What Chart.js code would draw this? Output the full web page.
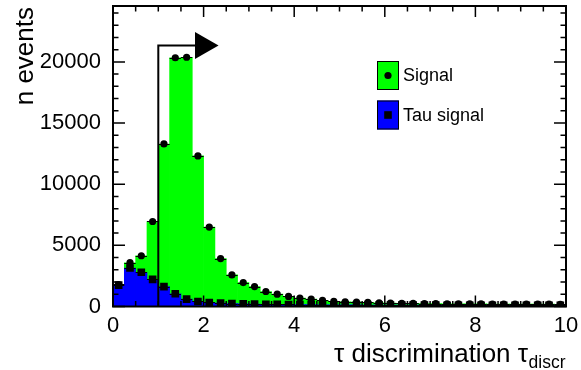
<!DOCTYPE html>
<html>
<head>
<meta charset="utf-8">
<script src="https://cdn.jsdelivr.net/npm/chart.js@4/dist/chart.umd.min.js"></script>
<style>
  html, body { margin: 0; padding: 0; background: #ffffff; }
  #wrap { position: relative; width: 581px; height: 370px; }
  canvas { display: block; }
</style>
</head>
<body>
<div id="wrap"><canvas id="c" width="581" height="370"></canvas></div>
<script>
// ---- data ----
const binCenters = [0.125, 0.375, 0.625, 0.875, 1.125, 1.375, 1.625, 1.875, 2.125, 2.375,
                    2.625, 2.875, 3.125, 3.375, 3.625, 3.875, 4.125, 4.375, 4.625, 4.875,
                    5.125, 5.375, 5.625, 5.875, 6.125, 6.375, 6.625, 6.875, 7.125, 7.375,
                    7.625, 7.875, 8.125, 8.375, 8.625, 8.875, 9.125, 9.375, 9.625, 9.875];
const signal = [1800, 3580, 4150, 6950, 13290, 20340, 20380, 12310, 6490, 3920,
                2580, 1960, 1630, 1225, 1010, 820, 690, 600, 500, 420,
                390, 360, 330, 305, 285, 265, 250, 240, 232, 225,
                220, 215, 210, 205, 200, 200, 195, 190, 188, 185];
const tauSignal = [1750, 3150, 2800, 2220, 1630, 1040, 605, 410, 330, 280,
                   240, 215, 200, 185, 175, 165, 155, 150, 145, 140,
                   135, 130, 125, 120, 118, 115, 112, 110, 108, 105,
                   103, 100, 100, 98, 96, 95, 94, 92, 90, 90];
const seriesNames = ['Signal', 'Tau signal'];
const xTickLabels = [0, 2, 4, 6, 8, 10];
const yTickLabels = [0, 5000, 10000, 15000, 20000];
const cutValue = 1.0;          // tau_discr cut shown by the arrow
const arrowLevel = 21350;      // height of the arrow (in events)
const arrowEnd = 1.81;         // where the arrow shaft ends
const arrowTip = 2.33;         // where the arrow head ends
const xTitle = 'τ discrimination τ';
const xTitleSub = 'discr';
const yTitle = 'n events';

// ---- style ----
const FONT = '"Liberation Sans", Arial, Helvetica, sans-serif';
const GREEN = '#00ff00';
const BLUE = '#0000ff';

const rootPlugin = {
  id: 'rootStyle',
  afterDatasetsDraw(chart) {
    const ctx = chart.ctx;
    const xs = chart.scales.x, ys = chart.scales.y;
    const half = (binCenters[1] - binCenters[0]) / 2;
    ctx.save();
    // horizontal error bars
    ctx.strokeStyle = '#000';
    ctx.lineWidth = 1;
    [signal, tauSignal].forEach(arr => {
      arr.forEach((v, i) => {
        const y = Math.round(ys.getPixelForValue(v)) + 0.5;
        ctx.beginPath();
        ctx.moveTo(xs.getPixelForValue(binCenters[i] - half), y);
        ctx.lineTo(xs.getPixelForValue(binCenters[i] + half), y);
        ctx.stroke();
      });
    });
    // arrow marking the cut
    const xc = xs.getPixelForValue(cutValue);
    const ya = ys.getPixelForValue(arrowLevel);
    const xe = xs.getPixelForValue(arrowEnd);
    const xt = xs.getPixelForValue(arrowTip);
    ctx.lineWidth = 2;
    ctx.beginPath();
    ctx.moveTo(xc, ys.getPixelForValue(0));
    ctx.lineTo(xc, ya);
    ctx.lineTo(xe, ya);
    ctx.stroke();
    ctx.fillStyle = '#000';
    ctx.beginPath();
    ctx.moveTo(xe, ya - 13.5);
    ctx.lineTo(xt, ya);
    ctx.lineTo(xe, ya + 13.5);
    ctx.closePath();
    ctx.fill();
    ctx.restore();
  },
  afterDraw(chart) {
    const ctx = chart.ctx;
    const a = chart.chartArea;
    const xs = chart.scales.x, ys = chart.scales.y;
    ctx.save();
    ctx.strokeStyle = '#000';
    // ticks
    ctx.lineWidth = 1.5;
    const majL = 11, minL = 5.5;
    for (let v = 0; v <= 10 + 1e-9; v += 0.5) {
      const x = xs.getPixelForValue(v);
      const L = (Math.abs(v / 2 - Math.round(v / 2)) < 1e-6) ? majL : minL;
      ctx.beginPath();
      ctx.moveTo(x, a.bottom); ctx.lineTo(x, a.bottom - L);
      ctx.moveTo(x, a.top); ctx.lineTo(x, a.top + L);
      ctx.stroke();
    }
    for (let v = 0; v <= ys.max; v += 1000) {
      const y = ys.getPixelForValue(v);
      const L = (v % 5000 === 0) ? majL + 1 : minL;
      ctx.beginPath();
      ctx.moveTo(a.left, y); ctx.lineTo(a.left + L, y);
      ctx.moveTo(a.right, y); ctx.lineTo(a.right - L, y);
      ctx.stroke();
    }
    // frame
    ctx.lineWidth = 2;
    ctx.strokeRect(a.left, a.top, a.right - a.left, a.bottom - a.top);

    // legend
    const items = [
      { name: seriesNames[0], fill: GREEN, marker: 'circle', y: 75.5 },
      { name: seriesNames[1], fill: BLUE, marker: 'rect', y: 115 }
    ];
    items.forEach(it => {
      ctx.fillStyle = it.fill;
      ctx.fillRect(377, it.y - 14.5, 22, 29);
      ctx.lineWidth = 1;
      ctx.strokeStyle = '#000';
      ctx.strokeRect(377.5, it.y - 14, 21, 28);
      ctx.fillStyle = '#000';
      ctx.beginPath();
      if (it.marker === 'circle') ctx.arc(388, it.y, 3.6, 0, Math.PI * 2);
      else ctx.rect(384.2, it.y - 3.8, 7.6, 7.6);
      ctx.fill();
      ctx.font = '18px ' + FONT;
      ctx.textAlign = 'left';
      ctx.textBaseline = 'middle';
      ctx.fillText(it.name, 403, it.y + 1);
    });

    // axis titles
    ctx.fillStyle = '#000';
    ctx.textBaseline = 'alphabetic';
    ctx.font = '17.5px ' + FONT;
    const subW = ctx.measureText(xTitleSub).width;
    ctx.textAlign = 'right';
    ctx.fillText(xTitleSub, 565.5, 368);
    ctx.font = '26px ' + FONT;
    ctx.fillText(xTitle, 565.5 - subW - 0.5, 361.5);

    ctx.translate(33, 7);
    ctx.rotate(-Math.PI / 2);
    ctx.textAlign = 'right';
    ctx.font = '26px ' + FONT;
    ctx.fillText(yTitle, 0, 0);
    ctx.restore();
  }
};

const ctx = document.getElementById('c').getContext('2d');
new Chart(ctx, {
  type: 'bar',
  data: {
    datasets: [
      { type: 'scatter', label: seriesNames[0] + ' points',
        data: binCenters.map((x, i) => ({ x, y: signal[i] })),
        pointStyle: 'circle', pointRadius: 3.6, borderWidth: 0,
        backgroundColor: '#000', borderColor: '#000', order: 0 },
      { type: 'scatter', label: seriesNames[1] + ' points',
        data: binCenters.map((x, i) => ({ x, y: tauSignal[i] })),
        pointStyle: 'rect', pointRadius: 5.4, borderWidth: 0,
        backgroundColor: '#000', borderColor: '#000', order: 1 },
      { type: 'bar', label: seriesNames[1],
        data: binCenters.map((x, i) => ({ x, y: tauSignal[i] })),
        backgroundColor: BLUE, borderWidth: 0, grouped: false,
        barPercentage: 1, categoryPercentage: 1, order: 2 },
      { type: 'bar', label: seriesNames[0],
        data: binCenters.map((x, i) => ({ x, y: signal[i] })),
        backgroundColor: GREEN, borderWidth: 0, grouped: false,
        barPercentage: 1, categoryPercentage: 1, order: 3 }
    ]
  },
  options: {
    responsive: false,
    animation: false,
    devicePixelRatio: 1,
    layout: { padding: { left: 0, right: 15, top: 6, bottom: 0 } },
    plugins: { legend: { display: false }, tooltip: { enabled: false }, title: { display: false } },
    scales: {
      x: {
        type: 'linear', min: 0, max: 10, offset: false,
        afterBuildTicks: s => { s.ticks = xTickLabels.map(v => ({ value: v })); },
        afterFit: s => { s.height = 63.5; s.paddingLeft = 0; s.paddingRight = 0; },
        grid: { display: false, drawTicks: false },
        border: { display: false },
        ticks: { color: '#000', font: { family: FONT, size: 22 }, padding: 6, maxRotation: 0, autoSkip: false,
                 callback: v => String(v) }
      },
      y: {
        type: 'linear', min: 0, max: 24570,
        afterBuildTicks: s => { s.ticks = yTickLabels.map(v => ({ value: v })); },
        afterFit: s => { s.width = 113; s.paddingTop = 0; s.paddingBottom = 0; },
        grid: { display: false, drawTicks: false },
        border: { display: false },
        ticks: { color: '#000', font: { family: FONT, size: 22 }, padding: 12, autoSkip: false,
                 callback: v => String(v) }
      }
    }
  },
  plugins: [rootPlugin]
});
</script>
</body>
</html>
